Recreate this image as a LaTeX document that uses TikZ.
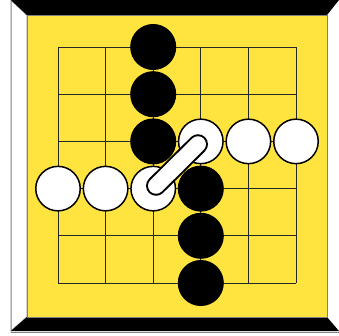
\documentclass[tikz,border=0pt]{standalone}
\usepackage{tikz}
\usetikzlibrary{positioning}

\definecolor{boardyellow}{RGB}{255,228,64}
\definecolor{framegray}{RGB}{128,128,128}

\begin{document}
\begin{tikzpicture}[x=1pt, y=-1pt,
        board/.style={fill=boardyellow, draw=framegray, line width=0.8pt},
        panel/.style={fill=white, draw=framegray, line width=1pt},
        band/.style={fill=black},
        gridline/.style={draw=black!85, line width=1pt},
        blackstone/.style={circle, fill=black, draw=black, line width=1pt, minimum size=45pt, inner sep=0pt},
        whitestone/.style={circle, fill=white, draw=black, line width=1.5pt, minimum size=44.5pt, inner sep=0pt},
        linkout/.style={draw=black, line width=20pt, line cap=round, shorten <=4pt, shorten >=4pt},
        linkin/.style={draw=white, line width=16pt, line cap=round, shorten <=4pt, shorten >=4pt}
    ]
        \useasboundingbox (0,0) rectangle (339,335);

        % Frame
        \fill[white] (0,0) rectangle (339,335);
        \draw[panel] (11,0) -- (27,15) -- (27,317) -- (11,331) -- cycle;
        \fill[band] (11,0) -- (339,0) -- (327,15) -- (27,15) -- cycle;
        \fill[band] (27,317) -- (327,317) -- (339,331) -- (11,331) -- cycle;
        \draw[framegray, line width=1pt] (11,332) -- (339,332);
        \draw[board] (27,15) rectangle (327,317);

        \begin{scope}[shift={(58,47)}, x=47.6pt, y=-47.2pt]
            % Grid
            \foreach \i in {0,...,5} {
                \draw[gridline] (\i,0) -- (\i,5);
                \draw[gridline] (0,\i) -- (5,\i);
            }

            % Stones
            \node[blackstone] (b1) at (2,0) {};
            \node[blackstone] (b2) at (2,1) {};
            \node[blackstone] (b3) at (2,2) {};
            \node[blackstone] (b4) at (3,3) {};
            \node[blackstone] (b5) at (3,4) {};
            \node[blackstone] (b6) at (3,5) {};

            \node[whitestone] (w1) at (0,3) {};
            \node[whitestone] (w2) at (1,3) {};
            \node[whitestone] (w3) at (2,3) {};
            \node[whitestone] (w4) at (3,2) {};
            \node[whitestone] (w5) at (4,2) {};
            \node[whitestone] (w6) at (5,2) {};

            % Connection
            \draw[linkout] (w3.center) -- (w4.center);
            \draw[linkin] (w3.center) -- (w4.center);
        \end{scope}

    \end{tikzpicture}
\end{document}
